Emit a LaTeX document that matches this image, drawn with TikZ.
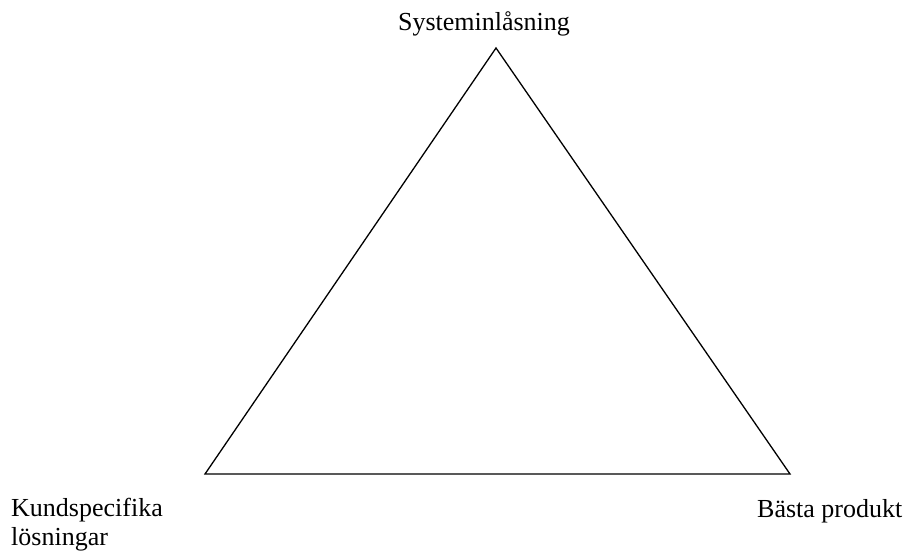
\documentclass[tikz,border=0pt]{standalone}
\usepackage{fontspec}
\setmainfont{Liberation Serif}
\begin{document}
\begin{tikzpicture}[x=1pt,y=-1pt,
  lbl/.style={inner sep=0pt,font=\fontsize{26}{30}\selectfont},
  edge/.style={line width=1.3pt,line join=miter}]
\useasboundingbox (0,0) rectangle (909,552);
\coordinate (top) at (496,48);
\coordinate (bl) at (205,474);
\coordinate (br) at (790,474);
\draw[edge] (top) -- (bl) -- (br) -- cycle;
\node[lbl,anchor=base] (sys) at (484,30) {Systeminlåsning};
\node[lbl,anchor=base west] (kund1) at (11,516) {Kundspecifika};
\node[lbl,anchor=base west] (kund2) at (11,545) {lösningar};
\node[lbl,anchor=base west] (best) at (757,517) {Bästa produkt};
\end{tikzpicture}
\end{document}
